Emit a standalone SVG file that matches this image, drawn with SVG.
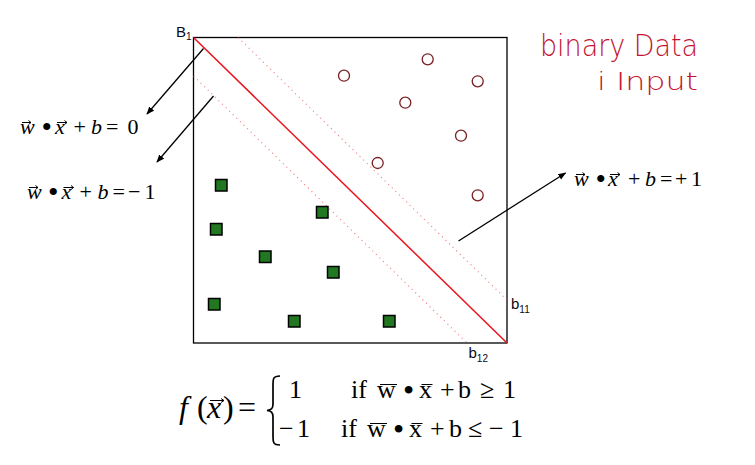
<svg xmlns="http://www.w3.org/2000/svg" width="755" height="465" viewBox="0 0 755 465">
<defs>
<style>
.m{font-family:"Liberation Serif","Times New Roman",serif;font-size:22px;fill:#000}
.b{font-family:"Liberation Serif","Times New Roman",serif;font-size:30px;fill:#000}
.i{font-style:italic}
.f{font-family:"Liberation Serif","Times New Roman",serif;font-size:26px;fill:#000}
.fb{font-family:"Liberation Serif","Times New Roman",serif;font-size:32px;fill:#000}
.fl{font-family:"Liberation Serif","Times New Roman",serif;font-size:32px;fill:#000}
.lab{font-family:"Liberation Sans",Arial,sans-serif;font-size:15px;fill:#0a0a1a}
.sub{font-family:"Liberation Sans",Arial,sans-serif;font-size:10px;fill:#0a0a1a}
.hw{font-family:"DejaVu Sans","Liberation Sans",sans-serif;font-weight:200;fill:#c41230}
.acc{stroke:#000;stroke-width:1;fill:none}
.sq{fill:#217821;stroke:#000;stroke-width:1.5}
.ci{fill:none;stroke:#7a1f24;stroke-width:1.3}
.dot{stroke:#f05050;stroke-width:1.2;stroke-dasharray:1 4;opacity:0.75}
.arr{stroke:#000;stroke-width:1.3;fill:none;marker-end:url(#ah)}
</style>
<marker id="ah" viewBox="0 0 10 10" refX="9" refY="5" markerWidth="8" markerHeight="8" markerUnits="userSpaceOnUse" orient="auto">
<path d="M0,1 L10,5 L0,9 Z" fill="#000"/>
</marker>
</defs>

<g id="plot">
<rect x="193.5" y="37.5" width="313.5" height="305.5" fill="none" stroke="#000" stroke-width="1.3"/>
</g>

<g id="hyperplanes">
<line class="dot" x1="238" y1="37.5" x2="507" y2="300"/>
<line x1="193.5" y1="37.5" x2="507" y2="343" stroke="#e8141e" stroke-width="1.5"/>
<line class="dot" x1="193.5" y1="76" x2="467" y2="343"/>
</g>

<g id="class-pos">
<circle class="ci" cx="344" cy="75.7" r="5.5"/>
<circle class="ci" cx="427.7" cy="59.3" r="5.5"/>
<circle class="ci" cx="477.7" cy="81.3" r="5.5"/>
<circle class="ci" cx="405.3" cy="102.7" r="5.5"/>
<circle class="ci" cx="461" cy="135.7" r="5.5"/>
<circle class="ci" cx="377.7" cy="163" r="5.5"/>
<circle class="ci" cx="477.7" cy="195.3" r="5.5"/>
</g>

<g id="class-neg">
<rect class="sq" x="215.5" y="179.5" width="11.5" height="11.5"/>
<rect class="sq" x="316.5" y="206.5" width="11.5" height="11.5"/>
<rect class="sq" x="210.5" y="223.5" width="11.5" height="11.5"/>
<rect class="sq" x="259.5" y="251" width="11.5" height="11.5"/>
<rect class="sq" x="327.5" y="266.5" width="11.5" height="11.5"/>
<rect class="sq" x="208.5" y="298.5" width="11.5" height="11.5"/>
<rect class="sq" x="288.5" y="315.5" width="11.5" height="11.5"/>
<rect class="sq" x="383.5" y="315.5" width="11.5" height="11.5"/>
</g>

<g id="connectors">
<line class="arr" x1="203.5" y1="48.5" x2="147" y2="114"/>
<line class="arr" x1="213.5" y1="96" x2="157" y2="162"/>
<line class="arr" x1="458.5" y1="241" x2="565.5" y2="173"/>
</g>

<g id="corner-labels">
<text class="lab" x="176" y="36.5">B<tspan class="sub" dy="3">1</tspan></text>
<text class="lab" x="511" y="309">b<tspan class="sub" dy="4">11</tspan></text>
<text class="lab" x="468.5" y="358">b<tspan class="sub" dy="4">12</tspan></text>
</g>

<g id="label-zero">
<text class="m i" x="20" y="134">w</text>
<text class="b" x="41.5" y="137">•</text>
<text class="m i" x="55" y="134">x</text>
<text class="m" x="73.5" y="134">+</text>
<text class="m i" x="91" y="134">b</text>
<text class="m" x="106" y="134">=</text>
<text class="m" x="127.5" y="134">0</text>
<path class="acc" d="M22,122.5 H31 M28.5,120.5 L31,122.5 L28.5,124.5 M57,122.5 H67 M64.5,120.5 L67,122.5 L64.5,124.5"/>
</g>

<g id="label-minus">
<text class="m i" x="27" y="199">w</text>
<text class="b" x="48" y="202">•</text>
<text class="m i" x="61.5" y="199">x</text>
<text class="m" x="79.5" y="199">+</text>
<text class="m i" x="97.5" y="199">b</text>
<text class="m" x="112.5" y="199">=</text>
<text class="m" x="128" y="199">−</text>
<text class="m" x="144.5" y="199">1</text>
<path class="acc" d="M29,187.5 H38 M35.5,185.5 L38,187.5 L35.5,189.5 M63.5,187.5 H73.5 M71,185.5 L73.5,187.5 L71,189.5"/>
</g>

<g id="label-plus">
<text class="m i" x="574" y="186">w</text>
<text class="b" x="595.5" y="189">•</text>
<text class="m i" x="608" y="186">x</text>
<text class="m" x="628" y="186">+</text>
<text class="m i" x="645" y="186">b</text>
<text class="m" x="660" y="186">=</text>
<text class="m" x="675" y="186">+</text>
<text class="m" x="691" y="186">1</text>
<path class="acc" d="M576,174.5 H585 M582.5,172.5 L585,174.5 L582.5,176.5 M610,174.5 H620 M617.5,172.5 L620,174.5 L617.5,176.5"/>
</g>

<g id="note">
<text class="hw" x="540" y="56" font-size="30" textLength="158" lengthAdjust="spacingAndGlyphs">binary Data</text>
<text class="hw" x="597" y="90" font-size="24" textLength="101" lengthAdjust="spacingAndGlyphs">i Input</text>
</g>

<g id="formula">
<text class="fl i" x="179" y="418">f</text>
<text class="fl" x="197" y="418">(</text>
<text class="fl i" x="207" y="418">x</text>
<text class="fl" x="223" y="418">)</text>
<text class="fl" x="238" y="418">=</text>
<path class="acc" d="M210,400.5 H224 M221,398.5 L224,400.5 L221,402.5"/>
<path d="M280,376 C273,376 273,379 273,384 L273,404 C273,409 271,410 267,410.5 C271,411 273,412 273,417 L273,437 C273,442 273,445 280,445" fill="none" stroke="#000" stroke-width="1.7"/>
<text class="f" x="289" y="398">1</text>
<text class="f" x="351" y="398">if</text>
<text class="f" x="377" y="398">w</text>
<text class="fb" x="403" y="401">•</text>
<text class="f" x="419" y="398">x</text>
<text class="f" x="440" y="398">+</text>
<text class="f" x="458" y="398">b</text>
<text class="f" x="480" y="398">≥</text>
<text class="f" x="503" y="398">1</text>
<path class="acc" d="M380,384.5 H397 M421.5,384.5 H432.5"/>
<text class="f" x="279" y="437">−</text>
<text class="f" x="297" y="437">1</text>
<text class="f" x="341" y="437">if</text>
<text class="f" x="367" y="437">w</text>
<text class="fb" x="393" y="440">•</text>
<text class="f" x="409" y="437">x</text>
<text class="f" x="430" y="437">+</text>
<text class="f" x="449" y="437">b</text>
<text class="f" x="468" y="437">≤</text>
<text class="f" x="489" y="437">−</text>
<text class="f" x="510" y="437">1</text>
<path class="acc" d="M370,423.5 H387 M411.5,423.5 H422.5"/>
</g>
</svg>
